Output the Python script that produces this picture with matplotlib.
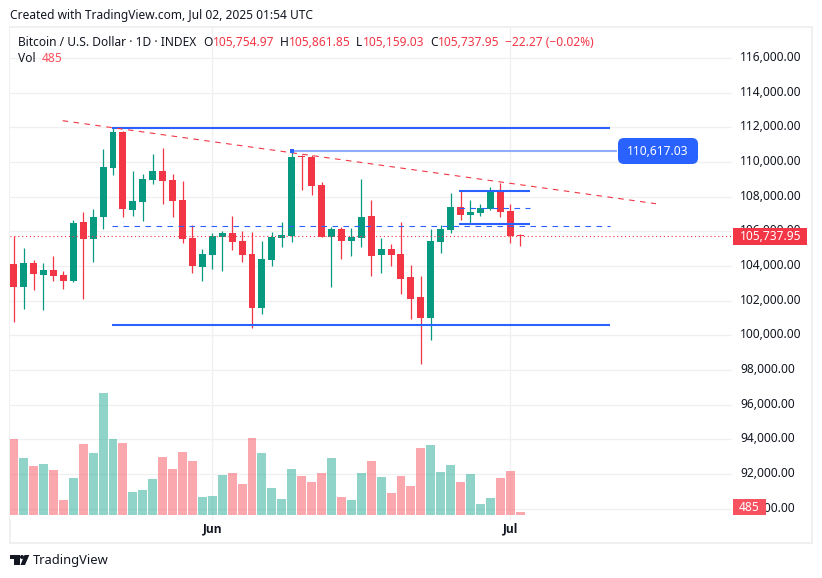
import matplotlib
matplotlib.use("Agg")
import matplotlib.pyplot as plt
from matplotlib.patches import Rectangle, FancyBboxPatch, Polygon, Circle
from matplotlib.transforms import ScaledTranslation

plt.rcParams['font.family'] = ['Noto Sans', 'DejaVu Sans']

opens = [104116,102789,104173,103481,103770,103481,103135,106539,105558,106827,109654,111731,107231,107692,108962,109481,
         108962,107808,105616,103943,104635,105673,105904,105443,104693,101577,104346,105616,105731,110346,110289,108673,
         105673,106135,105443,105616,106885,104635,104981,104693,103366,102212,101000,105385,106077,107404,106942,107058,
         107289,108385,107173,105754.97]
closes = [102789,104173,103539,103770,103423,103135,106481,105558,106827,109712,111731,107289,107750,109019,109481,108904,
          107750,105558,104000,104693,105731,105904,105385,104635,101577,104404,105673,105789,110289,110289,108615,105673,
          106135,105443,105673,106827,104577,104981,104635,103250,102097,101000,105443,106135,107404,106942,107116,107346,
          108385,107116,105731,105737.95]
highs = [105731,105039,104346,104173,104577,103712,106654,107116,107289,110750,112000,111788,109481,109308,110462,110808,
         109308,108904,106366,104981,105904,106019,106885,106019,105962,105443,105962,106539,110617,110404,110404,108846,
         106250,106250,106193,109019,107808,105616,105269,106539,104058,103423,106135,106366,108212,108327,107808,107577,
         108558,108789,107577,105861.85]
lows = [100770,101520,102616,101462,103135,102673,103100,102097,104231,106135,109250,106827,106885,106596,108731,107577,
        106827,105327,103596,103135,103827,103712,104923,104231,100424,101231,104000,105096,105385,108385,108096,105673,
        102789,104404,104577,105096,103423,103596,104000,102385,100943,98347,99731,104750,105904,106654,106423,106885,
        107231,106827,105327,105159.03]
volumes = [12312,9234,7938,8262,7290,2430,5994,11502,10044,19764,12312,11664,3726,4050,5832,9396,7452,10206,8748,2916,
           3078,6480,6804,5022,12474,10044,4374,2592,7452,6318,5346,6804,9234,2916,2430,6804,8748,6156,3564,6318,4698,
           10854,11340,6966,8100,5346,6642,1782,2754,5994,7128,485]
month_ticks = [20, 50]
month_labels = ['Jun', 'Jul']
price_ticks = list(range(90000, 118000, 2000))
price_labels = [f'{p:,.2f}' for p in price_ticks]
last_price = 105737.95
marked_price = 110617.03

GREEN, RED = '#089981', '#f23645'
BLUE = '#2962ff'
TEXT = '#131722'
W, H = 822, 578
FS = 8.64
fig = plt.figure(figsize=(W / 100, H / 100), dpi=100, facecolor='white')


def fx(x):
    return x / W


def fy(y):
    return 1 - y / H


# plot area in pixels: x 10..732, y 28..520
ax = fig.add_axes([fx(10), fy(520), fx(722), 492 / H], zorder=1)
ax.set_xlim((10 - 13.7) / 9.93, (732 - 13.7) / 9.93)
ax.set_ylim(112000 - (520 - 127.3) / 0.017333, 112000 + (127.3 - 28) / 0.017333)
for s in ax.spines.values():
    s.set_visible(False)
ax.set_axisbelow(True)
ax.grid(True, color='#f0f0f0', lw=1.0)
ax.set_xticks(month_ticks, month_labels, fontsize=FS, color=TEXT)
for lab in ax.get_xticklabels():
    lab.set_fontfamily(['Open Sans', 'DejaVu Sans'])
    lab.set_fontweight('bold')
ax.yaxis.tick_right()
ax.set_yticks(price_ticks, price_labels, fontsize=FS, color=TEXT)
ax.tick_params(length=0)
ax.tick_params(axis='y', pad=6.0)
ax.tick_params(axis='x', pad=1.5)
shift = ScaledTranslation(0, 2 / 72 * 0.72, fig.dpi_scale_trans)
for lab in ax.get_yticklabels():
    lab.set_transform(lab.get_transform() + shift)

idx = list(range(len(opens)))
cols = [GREEN if c >= o else RED for o, c in zip(opens, closes)]
ax.vlines(idx, lows, highs, colors=cols, lw=0.9, zorder=3)
ax.bar(idx, [max(abs(c - o), 30) for o, c in zip(opens, closes)],
       bottom=[min(o, c) for o, c in zip(opens, closes)], width=0.7, color=cols, lw=0, zorder=4)

# drawings
dash = (0, (5, 4.9))
ax.plot([9.9, 60.05], [111960, 111960], color=BLUE, lw=1.5, zorder=5, solid_capstyle='butt')
ax.plot([9.9, 60.05], [100594, 100594], color=BLUE, lw=1.5, zorder=5, solid_capstyle='butt')
ax.plot([9.9, 60.05], [106288, 106288], color=BLUE, lw=0.8, ls=dash, zorder=5)
ax.plot([44.84, 52.0], [108342, 108342], color=BLUE, lw=1.5, zorder=5, solid_capstyle='butt')
ax.plot([44.84, 52.0], [106438, 106438], color=BLUE, lw=1.5, zorder=5, solid_capstyle='butt')
ax.plot([44.84, 52.0], [107327, 107327], color=BLUE, lw=0.8, ls=dash, zorder=5)
ax.plot([4.93, 64.68], [112381, 107592], color=RED, lw=0.8, ls=dash, zorder=5)
ax.plot([28, 60.8], [marked_price, marked_price], color='#8fadff', lw=1.5, zorder=5, solid_capstyle='butt')
ax.plot([28], [marked_price], marker='s', ms=3.2, color=BLUE, mew=0, zorder=6)
ax.axhline(last_price, color=RED, lw=0.8, ls=(0, (1, 2.5)), zorder=5)

# volume pane on the same area
vax = fig.add_axes(ax.get_position(), zorder=2)
vax.set_xlim(ax.get_xlim())
vax.set_ylim(-5 * 162, (515 - 28) * 162)
vax.axis('off')
vcols = ['#22ab94' if c == GREEN else '#f7525f' for c in cols]
vax.bar(idx, volumes, width=0.9, color=vcols, alpha=0.5, lw=0)

# frame
fig.add_artist(Rectangle((fx(10), fy(543)), 802 / W, 516 / H, transform=fig.transFigure,
                         fill=False, ec='#f0f0f0', lw=1.4, zorder=0.5))


def tag(x0, y0, x1, y1, color, label, rounded=False, tx=None):
    if rounded:
        p = FancyBboxPatch((x0 + 5, H - y1 + 5), x1 - x0 - 10, y1 - y0 - 10,
                           boxstyle='round,pad=5,rounding_size=6', fc=color, ec='none',
                           transform=None, zorder=8)
    else:
        p = Rectangle((x0, H - y1), x1 - x0, y1 - y0, fc=color, ec='none', transform=None, zorder=8)
    fig.add_artist(p)
    fig.text(fx(tx if tx else (x0 + x1) / 2), fy((y0 + y1) / 2 + 0.5), label, color='white', fontsize=FS,
             ha='center', va='center', zorder=9)


tag(733, 228, 807, 245, RED, f'{last_price:,.2f}', tx=771)
tag(733, 499, 766, 515, '#f7525f', f'{volumes[-1]}')
tag(618, 138, 698, 164, BLUE, f'{marked_price:,.2f}', rounded=True)


def label(x, y, s, color=TEXT, size=FS, **kw):
    fig.text(fx(x), fy(y), s, color=color, fontsize=size, va='center', ha='left', zorder=9, **kw)


label(10, 15, 'Created with TradingView.com, Jul 02, 2025 01:54 UTC')
label(18, 42, 'Bitcoin / U.S. Dollar · 1D · INDEX')
for x, s in [(203, 'O'), (280, 'H'), (356, 'L'), (430, 'C')]:
    label(x, 42, s)
for x, s in [(212.5, '105,754.97'), (289, '105,861.85'), (362.5, '105,159.03'), (438, '105,737.95'),
             (505, '−22.27 (−0.02%)')]:
    label(x, 42, s, color=RED)
label(18, 59, 'Vol')
label(41.5, 59, '485', color='#f7525f')

# TradingView mark
ink = '#131722'
fig.add_artist(Polygon([(10, H - 555), (20, H - 555), (20, H - 565), (14, H - 565), (14, H - 559), (10, H - 559)],
                       closed=True, fc=ink, ec='none', transform=None, zorder=9))
fig.add_artist(Circle((22, H - 557), 2, fc=ink, ec='none', transform=None, zorder=9))
fig.add_artist(Polygon([(24.5, H - 555), (29.3, H - 555), (25, H - 565), (20.5, H - 565)],
                       closed=True, fc=ink, ec='none', transform=None, zorder=9))
label(33, 560.5, 'TradingView', size=9.3)

fig.savefig('out.png', dpi=100)
